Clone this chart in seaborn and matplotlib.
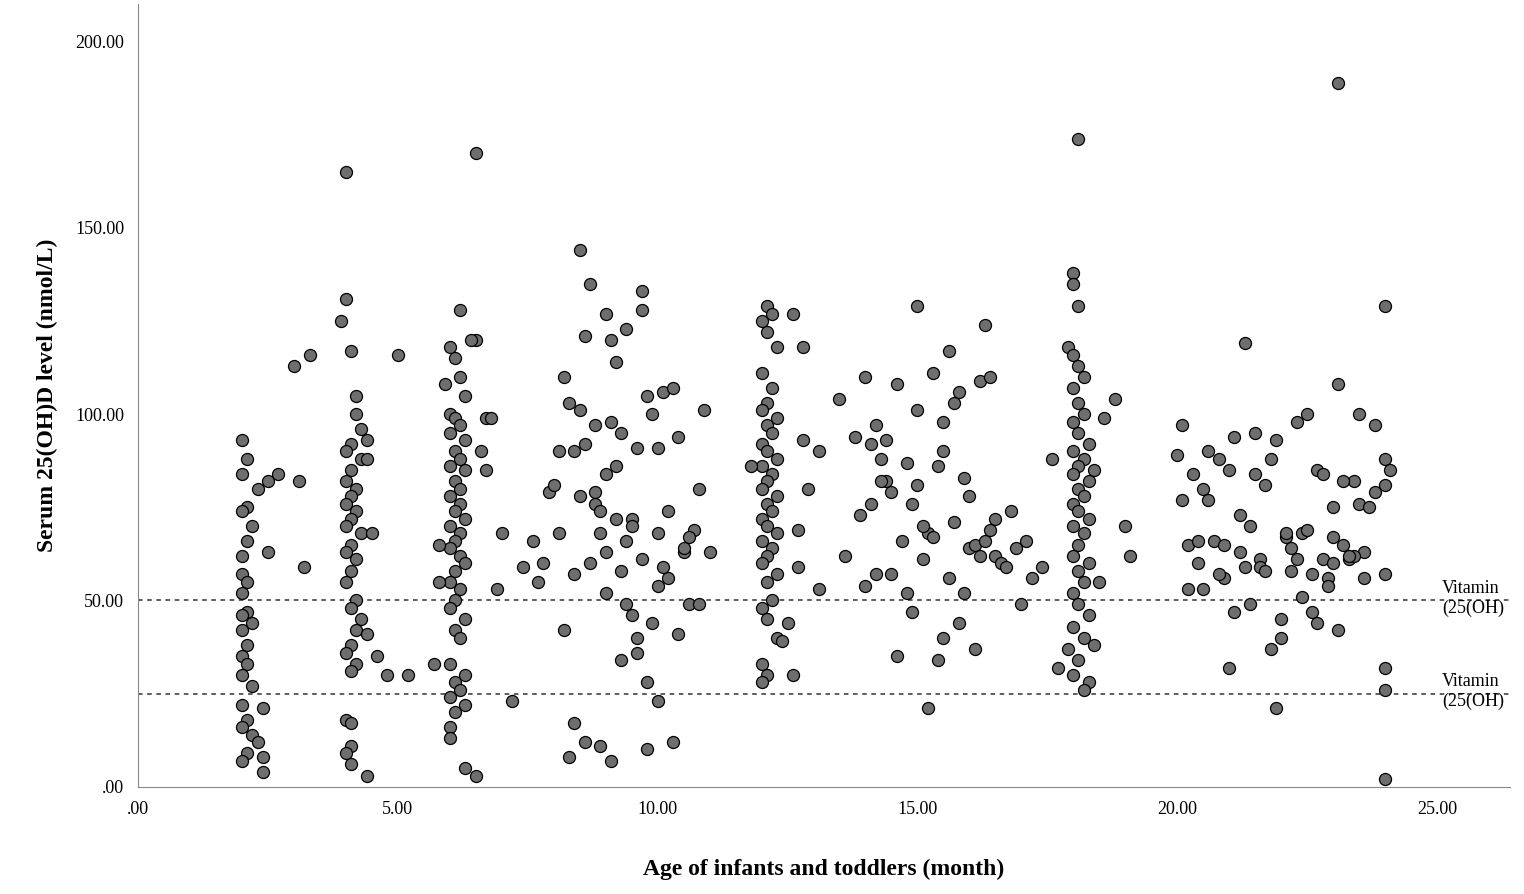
import matplotlib.pyplot as plt
import seaborn as sns
import pandas as pd
from matplotlib.ticker import FuncFormatter

# age (month) / serum 25(OH)D (nmol/L)
age_2m = [2.0, 2.1, 2.0, 2.1, 2.0, 2.2, 2.1, 2.0, 2.0, 2.1, 2.0, 2.1, 2.0, 2.2, 2.0, 2.1, 2.0, 2.1,
          2.0, 2.2, 2.0, 2.1, 2.0, 2.2, 2.3, 2.1, 2.0, 2.4, 2.4, 2.4, 2.3, 2.5, 2.7, 3.1, 3.2, 3.0, 3.3, 2.5]
lvl_2m = [93, 88, 84, 75, 74, 70, 66, 62, 57, 55, 52, 47, 46, 44, 42, 38, 35, 33,
          30, 27, 22, 18, 16, 14, 12, 9, 7, 4, 8, 21, 80, 82, 84, 82, 59, 113, 116, 63]

age_4m = [4.0, 4.0, 3.9, 4.1, 4.2, 4.2, 4.3, 4.1, 4.0, 4.3, 4.1, 4.0, 4.2, 4.1, 4.0, 4.2, 4.1, 4.0,
          4.3, 4.1, 4.0, 4.2, 4.1, 4.0, 4.2, 4.1, 4.3, 4.2, 4.1, 4.0, 4.2, 4.1, 4.0, 4.1, 4.1, 4.0,
          4.1, 4.4, 4.4, 4.4, 4.6, 4.8, 5.2, 5.0, 4.4, 4.5]
lvl_4m = [165, 131, 125, 117, 105, 100, 96, 92, 90, 88, 85, 82, 80, 78, 76, 74, 72, 70,
          68, 65, 63, 61, 58, 55, 50, 48, 45, 42, 38, 36, 33, 31, 18, 17, 11, 9,
          6, 3, 93, 88, 35, 30, 30, 116, 41, 68]

age_6m = [6.5, 6.2, 6.5, 6.0, 6.1, 6.2, 6.3, 6.0, 6.1, 6.2, 6.0, 6.3, 6.1, 6.2, 6.0, 6.3, 6.1, 6.2,
          6.0, 6.2, 6.1, 6.3, 6.0, 6.2, 6.1, 6.0, 6.2, 6.3, 6.1, 6.0, 6.2, 6.1, 6.0, 6.3, 6.1, 6.2,
          6.0, 6.3, 6.1, 6.2, 6.0, 6.3, 6.1, 6.0, 6.0, 6.5, 5.7, 5.8, 5.8, 5.9, 6.7, 6.8, 6.7,
          6.6, 6.9, 7.0, 7.2, 6.4, 6.3]
lvl_6m = [170, 128, 120, 118, 115, 110, 105, 100, 99, 97, 95, 93, 90, 88, 86, 85, 82, 80,
          78, 76, 74, 72, 70, 68, 66, 64, 62, 60, 58, 55, 53, 50, 48, 45, 42, 40,
          33, 30, 28, 26, 24, 22, 20, 16, 13, 3, 33, 55, 65, 108, 99, 99, 85,
          90, 53, 68, 23, 120, 5]

age_mid1 = [7.4, 7.6, 7.7, 7.9, 8.1, 8.2, 8.3, 8.4, 8.5, 8.5, 8.6, 8.7, 8.8, 8.8, 8.9, 9.0, 9.0, 9.1,
            9.2, 9.2, 9.3, 9.4, 9.5, 9.6, 9.7, 9.7, 9.8, 9.9, 10.0, 10.0, 10.1, 10.2, 10.3, 10.4,
            10.5, 10.6, 10.7, 10.8, 10.9, 11.0, 8.2, 8.4, 8.6, 8.9, 9.1, 9.3, 9.5, 9.8, 10.0, 10.3,
            8.3, 8.7, 9.0, 9.4, 9.6, 9.9, 10.2, 10.4, 10.6, 8.0, 8.5, 9.2, 9.7, 10.1, 8.8, 9.4,
            8.1, 8.6, 9.0, 9.5, 10.0, 10.5, 7.8, 8.4, 9.1, 9.8, 10.8, 8.9, 9.3, 9.6]
lvl_mid1 = [59, 66, 55, 79, 90, 110, 103, 57, 144, 101, 121, 135, 97, 79, 68, 127, 84, 120,
            114, 72, 95, 123, 72, 91, 133, 128, 105, 100, 91, 68, 106, 74, 107, 94,
            63, 49, 69, 80, 101, 63, 42, 17, 12, 11, 7, 34, 46, 10, 23, 12,
            8, 60, 52, 66, 36, 44, 56, 41, 67, 81, 78, 86, 61, 59, 76, 49,
            68, 92, 63, 70, 54, 64, 60, 90, 98, 28, 49, 74, 58, 40]

age_12m = [12.1, 12.2, 12.0, 12.1, 12.3, 12.0, 12.2, 12.1, 12.0, 12.3, 12.1, 12.2, 12.0, 12.1, 12.3,
           12.0, 12.2, 12.1, 12.0, 12.3, 12.1, 12.2, 12.0, 12.1, 12.3, 12.0, 12.2, 12.1, 12.0, 12.3,
           12.1, 12.2, 12.0, 12.1, 12.3, 12.0, 12.1, 12.0, 12.6, 12.8, 12.8, 13.1, 12.9, 12.7, 12.7,
           13.1, 12.5, 12.4, 12.6, 11.8]
lvl_12m = [129, 127, 125, 122, 118, 111, 107, 103, 101, 99, 97, 95, 92, 90, 88, 86, 84, 82, 80, 78,
           76, 74, 72, 70, 68, 66, 64, 62, 60, 57, 55, 50, 48, 45, 40, 33, 30, 28, 127, 118, 93, 90,
           80, 69, 59, 53, 44, 39, 30, 86]

age_mid2 = [13.5, 13.6, 13.9, 14.0, 14.1, 14.2, 14.3, 14.4, 14.5, 14.6, 14.7, 14.8, 14.9, 15.0, 15.1,
            15.2, 15.3, 15.4, 15.5, 15.6, 15.7, 15.8, 15.9, 16.0, 16.1, 16.2, 16.3, 16.4, 16.5, 16.6,
            16.8, 17.0, 17.2, 17.4, 14.2, 14.6, 15.0, 15.3, 15.7, 16.1, 16.5, 14.1, 14.4, 14.8, 15.2,
            15.5, 15.9, 16.3, 16.7, 17.1, 14.0, 14.5, 15.0, 15.4, 15.8, 16.2, 16.9, 13.8, 14.9, 15.6,
            16.0, 16.4, 14.3, 15.1, 15.5]
lvl_mid2 = [104, 62, 73, 110, 92, 97, 88, 82, 79, 108, 66, 52, 76, 129, 61, 68, 111, 86, 98, 117,
            103, 106, 83, 64, 65, 109, 124, 110, 62, 60, 74, 49, 56, 59, 57, 35, 81, 67, 71, 37, 72,
            76, 93, 87, 21, 40, 52, 66, 59, 66, 54, 57, 101, 34, 44, 62, 64, 94, 47, 56, 78, 69, 82,
            70, 90]

age_18m = [18.1, 18.0, 18.0, 18.1, 17.9, 18.0, 18.1, 18.2, 18.0, 18.1, 18.2, 18.0, 18.1, 18.3, 18.0,
           18.2, 18.1, 18.0, 18.3, 18.1, 18.2, 18.0, 18.1, 18.3, 18.0, 18.2, 18.1, 18.0, 18.3, 18.1,
           18.2, 18.0, 18.1, 18.3, 18.0, 18.2, 17.9, 18.1, 18.0, 18.3, 18.2, 18.8, 18.6, 18.4, 19.0,
           19.1, 18.5, 17.7, 17.6, 18.4]
lvl_18m = [174, 138, 135, 129, 118, 116, 113, 110, 107, 103, 100, 98, 95, 92, 90, 88, 86, 84, 82,
           80, 78, 76, 74, 72, 70, 68, 65, 62, 60, 58, 55, 52, 49, 46, 43, 40, 37, 34, 30, 28, 26,
           104, 99, 85, 70, 62, 55, 32, 88, 38]

age_mid3 = [20.0, 20.1, 20.2, 20.3, 20.4, 20.5, 20.6, 20.7, 20.8, 20.9, 21.0, 21.1, 21.2, 21.3, 21.4,
            21.5, 21.6, 21.7, 21.8, 21.9, 22.0, 22.1, 22.2, 22.3, 22.4, 22.5, 22.6, 22.7, 22.8, 22.9,
            23.0, 23.1, 23.2, 23.3, 23.4, 23.6, 23.8, 20.2, 20.6, 21.0, 21.4, 21.8, 22.2, 22.6, 23.0,
            23.4, 20.4, 20.8, 21.2, 21.6, 22.0, 22.4, 22.8, 23.2, 20.1, 20.9, 21.3, 21.7, 22.1, 22.5,
            22.9, 23.3, 21.1, 21.9, 22.7, 23.5, 20.5, 21.5, 22.3, 23.1, 23.0, 23.1]
lvl_mid3 = [89, 97, 65, 84, 60, 80, 77, 66, 88, 56, 85, 94, 63, 119, 49, 84, 61, 81, 88, 93, 45,
            67, 58, 98, 68, 100, 57, 85, 84, 56, 75, 108, 65, 61, 82, 63, 79, 53, 90, 32, 70, 37,
            64, 47, 67, 62, 66, 57, 73, 59, 40, 51, 61, 82, 77, 65, 59, 58, 68, 69, 54, 62, 47, 21,
            44, 76, 53, 95, 61, 189, 60, 42]

age_24m = [24.0, 24.0, 24.1, 24.0, 24.0, 24.0, 24.0, 24.0, 23.8, 23.5, 23.7, 23.6]
lvl_24m = [129, 88, 85, 81, 57, 32, 26, 2, 97, 100, 75, 56]

ages = age_2m + age_4m + age_6m + age_mid1 + age_12m + age_mid2 + age_18m + age_mid3 + age_24m
levels = lvl_2m + lvl_4m + lvl_6m + lvl_mid1 + lvl_12m + lvl_mid2 + lvl_18m + lvl_mid3 + lvl_24m
df = pd.DataFrame({"age": ages, "level": levels})

cutoffs = [50, 25]
cutoff_labels = ["Vitamin\n(25(OH)", "Vitamin\n(25(OH)"]
xticks = [0, 5, 10, 15, 20, 25]
yticks = [0, 50, 100, 150, 200]

plt.rcParams["font.family"] = "Liberation Serif"
fig = plt.figure(figsize=(15.24, 8.94), dpi=100)
ax = fig.add_axes([0.0906, 0.12, 0.9, 0.875])

sns.scatterplot(data=df, x="age", y="level", ax=ax, s=75, color="#6e6e6e",
                edgecolor="black", linewidth=0.9, zorder=3, clip_on=False)

for c, lab in zip(cutoffs, cutoff_labels):
    ax.axhline(c, color="#333333", linestyle=(0, (3, 3)), linewidth=1.1, zorder=1)
    ax.text(25.1, c + 0.5, lab, fontsize=13, va="center", ha="left")

ax.set_xlim(0, 26.4)
ax.set_ylim(0, 210)
ax.set_xticks(xticks)
ax.set_yticks(yticks)
fmt = FuncFormatter(lambda v, p: ".00" if v == 0 else f"{v:.2f}")
ax.xaxis.set_major_formatter(fmt)
ax.yaxis.set_major_formatter(fmt)
ax.tick_params(labelsize=13, length=0, pad=10)
ax.set_xlabel("Age of infants and toddlers (month)", fontsize=17, fontweight="bold", labelpad=30)
ax.set_ylabel("Serum 25(OH)D level (nmol/L)", fontsize=17, fontweight="bold", labelpad=12)
sns.despine(ax=ax)
for s in ["left", "bottom"]:
    ax.spines[s].set_color("#888888")

fig.savefig("out.png", dpi=100)
